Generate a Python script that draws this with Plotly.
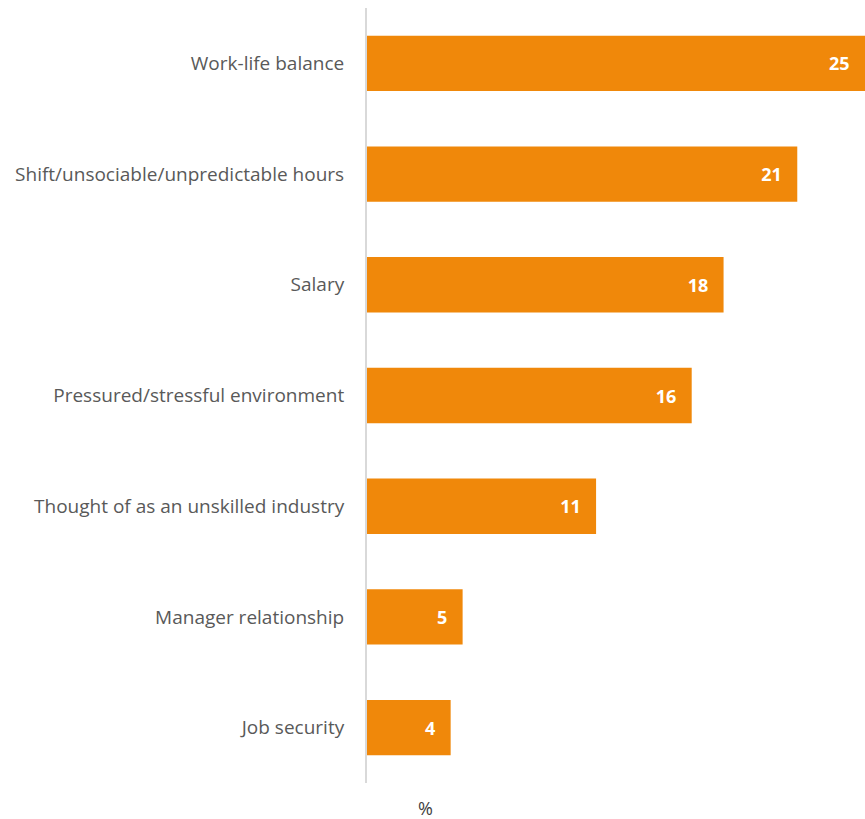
import plotly.graph_objects as go

categories = ['Work-life balance', 'Shift/unsociable/unpredictable hours', 'Salary',
              'Pressured/stressful environment', 'Thought of as an unskilled industry',
              'Manager relationship', 'Job security']
# bar lengths as drawn, and the rounded value printed on each bar
values = [25.0, 21.6, 17.9, 16.3, 11.5, 4.8, 4.2]
labels = [25, 21, 18, 16, 11, 5, 4]

fig = go.Figure()
fig.add_trace(go.Bar(
    y=categories, x=values, orientation='h',
    marker=dict(color='#F0880A', line=dict(width=0)),
    width=0.5,
    text=[str(v) + '\u00a0\u00a0\u2009' for v in labels],
    texttemplate='%{text}',
    textposition='inside', insidetextanchor='end',
    textfont=dict(family='Open Sans', size=18, color='white', weight='bold'),
    cliponaxis=False,
))

fig.update_layout(
    width=865, height=819,
    margin=dict(l=367, r=0, t=8, b=36),
    plot_bgcolor='white', paper_bgcolor='white',
    showlegend=False,
    font=dict(family='Open Sans', size=19, color='#595959'),
    xaxis=dict(range=[0, 25], showgrid=False, zeroline=False, showticklabels=False,
               showline=False),
    yaxis=dict(autorange='reversed', showgrid=False, zeroline=False,
               showline=True, linecolor='#D9D9D9', linewidth=2,
               ticks='', ticklabelstandoff=17,
               tickfont=dict(family='Open Sans', size=19, color='#595959')),
    uniformtext=dict(mode=False),
)

fig.add_annotation(text='%', xref='paper', yref='paper', x=0.118, y=0, yshift=-25,
                   showarrow=False, xanchor='center', yanchor='middle',
                   font=dict(family='Open Sans', size=18, color='#404040'))

# drop the page's default body margin so the figure fills the window exactly
fig.write_html('out.html', config={'displayModeBar': False},
               post_script="document.body.style.margin='0';document.body.style.overflow='hidden';")
